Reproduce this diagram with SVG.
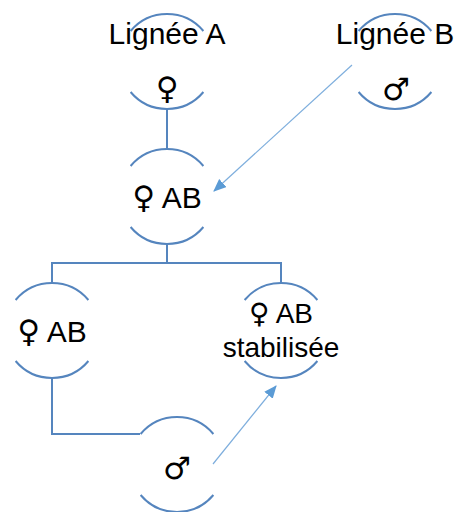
<svg xmlns="http://www.w3.org/2000/svg" width="457" height="512" viewBox="0 0 457 512">
<style>
.arc{fill:none;stroke:#5585BE;stroke-width:2}
.ln{fill:none;stroke:#5585BE;stroke-width:2}
.ar{fill:none;stroke:#7EAEDD;stroke-width:1.2}
text{font-family:"Liberation Sans",Arial,"DejaVu Sans",sans-serif;font-size:30px;fill:#000;text-anchor:middle}
.sym{font-family:"DejaVu Sans",sans-serif;font-size:31px}
</style>
<defs>
<marker id="ah" viewBox="0 0 12 10" refX="11" refY="5" markerWidth="13" markerHeight="11" orient="auto" markerUnits="userSpaceOnUse">
<path d="M0,0 L12,5 L0,10 z" fill="#5B9BD5"/>
</marker>
</defs>
<g id="connectors">
<path class="ln" d="M167,109 V149"/>
<path class="ln" d="M167,244 V263 M52,283 V263 H281 V283"/>
<path class="ln" d="M52,378 V434 H140"/>
<path class="ar" d="M352,65 L214,191" marker-end="url(#ah)"/>
<path class="ar" d="M213,464 L276,386" marker-end="url(#ah)"/>
</g>
<g id="ligneeA">
<path class="arc" d="M130.6,31 A47.5,47.5 0 0 1 203.4,31"/>
<path class="arc" d="M130.6,92 A47.5,47.5 0 0 0 203.4,92"/>
<text x="167" y="44">Lignée A</text>
<text class="sym" x="167" y="99">♀</text>
</g>
<g id="ligneeB">
<path class="arc" d="M358.6,31 A47.5,47.5 0 0 1 431.4,31"/>
<path class="arc" d="M358.6,92 A47.5,47.5 0 0 0 431.4,92"/>
<text x="395" y="44">Lignée B</text>
<text class="sym" x="396" y="100">♂</text>
</g>
<g id="AB">
<path class="arc" d="M130.6,166 A47.5,47.5 0 0 1 203.4,166"/>
<path class="arc" d="M130.6,227 A47.5,47.5 0 0 0 203.4,227"/>
<text x="167" y="208"><tspan class="sym">♀</tspan> AB</text>
</g>
<g id="AB-left">
<path class="arc" d="M15.6,300 A47.5,47.5 0 0 1 88.4,300"/>
<path class="arc" d="M15.6,361 A47.5,47.5 0 0 0 88.4,361"/>
<text x="52" y="342"><tspan class="sym">♀</tspan> AB</text>
</g>
<g id="AB-stabilisee">
<path class="arc" d="M244.6,300 A47.5,47.5 0 0 1 317.4,300"/>
<path class="arc" d="M244.6,361 A47.5,47.5 0 0 0 317.4,361"/>
<text x="281" y="323" style="font-size:28px"><tspan class="sym" style="font-size:28px">♀</tspan> AB</text>
<text x="281" y="357" style="font-size:28px">stabilisée</text>
</g>
<g id="male">
<path class="arc" d="M140.6,434 A47.5,47.5 0 0 1 213.4,434"/>
<path class="arc" d="M140.6,495 A47.5,47.5 0 0 0 213.4,495"/>
<text class="sym" x="177" y="479">♂</text>
</g>
</svg>
